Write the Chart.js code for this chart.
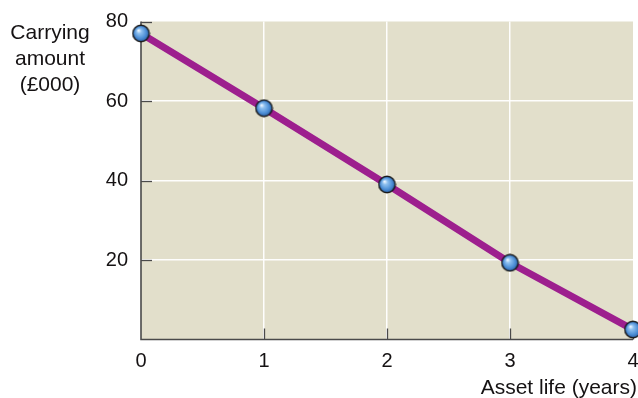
<!DOCTYPE html>
<html>
<head>
<meta charset="utf-8">
<script src="https://cdn.jsdelivr.net/npm/chart.js@4.4.1/dist/chart.umd.min.js"></script>
<style>
html,body{margin:0;padding:0;background:#fff;}
#wrap{width:638px;height:398px;position:relative;}
</style>
</head>
<body>
<div id="wrap"><canvas id="c" width="638" height="398"></canvas></div>
<script>
const years = [0, 1, 2, 3, 4];
const carryingAmount = [77, 58.2, 39, 19.3, 2.5];
const yTicks = [20, 40, 60, 80];
const xTitle = 'Asset life (years)';
const yTitleLines = ['Carrying', 'amount', '(£000)'];

const FONT = '"Liberation Sans", Arial, Helvetica, sans-serif';
const TEXT = '#151213';
const AXIS = '#4a4a4a';
const BG = '#e2dfcb';

// sphere marker
function makeSphere() {
  const s = 19, c = document.createElement('canvas');
  c.width = s; c.height = s;
  const g = c.getContext('2d');
  const r = 8.2, cx = s/2, cy = s/2;
  const grad = g.createRadialGradient(cx-2.5, cy-3, 0.5, cx, cy, r);
  grad.addColorStop(0, '#e8f3ff');
  grad.addColorStop(0.25, '#8ec0ef');
  grad.addColorStop(0.7, '#4d8fd6');
  grad.addColorStop(1, '#2c62a8');
  g.beginPath(); g.arc(cx, cy, r, 0, Math.PI*2);
  g.fillStyle = grad; g.fill();
  g.lineWidth = 1.4; g.strokeStyle = '#1a1a1a'; g.stroke();
  return c;
}
const sphere = makeSphere();

const decor = {
  id: 'decor',
  beforeDraw(chart) {
    const {ctx, chartArea: a} = chart;
    ctx.save();
    ctx.fillStyle = BG;
    ctx.fillRect(a.left, a.top, a.right - a.left, a.bottom - a.top);
    ctx.restore();
  },
  beforeDatasetsDraw(chart) {
    const {ctx, chartArea: a, scales} = chart;
    ctx.save();
    ctx.strokeStyle = AXIS; ctx.lineWidth = 1.3;
    // inward tick marks
    yTicks.forEach(v => {
      const y = Math.round(scales.y.getPixelForValue(v)) + 0.5;
      ctx.beginPath(); ctx.moveTo(a.left, y); ctx.lineTo(a.left + 11, y); ctx.stroke();
    });
    years.slice(1).forEach(v => {
      const x = Math.round(scales.x.getPixelForValue(v)) + 0.5;
      ctx.beginPath(); ctx.moveTo(x, a.bottom); ctx.lineTo(x, a.bottom - 11); ctx.stroke();
    });
    // axis lines
    ctx.lineWidth = 1.6;
    ctx.beginPath();
    ctx.moveTo(a.left, a.top); ctx.lineTo(a.left, a.bottom); ctx.lineTo(a.right, a.bottom);
    ctx.stroke();
    ctx.restore();
  },
  afterDraw(chart) {
    const {ctx} = chart;
    ctx.save();
    ctx.fillStyle = TEXT;
    ctx.font = '21px ' + FONT;
    ctx.textAlign = 'center'; ctx.textBaseline = 'alphabetic';
    yTitleLines.forEach((t, i) => ctx.fillText(t, 50, 39 + i * 26));
    ctx.textAlign = 'right';
    ctx.fillText(xTitle, 637, 394);
    ctx.restore();
  }
};

new Chart(document.getElementById('c'), {
  type: 'line',
  data: {
    labels: years,
    datasets: [{
      data: carryingAmount,
      borderColor: '#9d1f8e',
      borderWidth: 7,
      pointStyle: sphere,
      pointRadius: 9,
      pointHoverRadius: 9,
      clip: false,
      tension: 0
    }]
  },
  options: {
    responsive: false,
    animation: false,
    devicePixelRatio: 1,
    layout: { autoPadding: false, padding: { top: 21.5, right: 5, left: 0, bottom: 0 } },
    plugins: { legend: { display: false }, tooltip: { enabled: false } },
    scales: {
      x: {
        type: 'linear', min: 0, max: 4,
        afterFit(s) { s.height = 58.5; s.paddingLeft = 0; s.paddingRight = 0; },
        border: { display: false },
        grid: {
          drawTicks: false,
          color: ctx => (ctx.tick && (ctx.tick.value === 0 || ctx.tick.value === 4)) ? 'rgba(0,0,0,0)' : 'rgba(255,255,255,0.95)',
          lineWidth: 1.5
        },
        ticks: {
          stepSize: 1, padding: 10,
          color: TEXT, font: { size: 20, family: FONT }
        }
      },
      y: {
        min: 0, max: 80,
        afterFit(s) { s.width = 141; s.paddingTop = 0; s.paddingBottom = 0; },
        afterBuildTicks(s) { s.ticks = [0].concat(yTicks).map(v => ({ value: v })); },
        border: { display: false },
        grid: {
          drawTicks: false,
          color: ctx => (ctx.tick && (ctx.tick.value === 0 || ctx.tick.value === 80)) ? 'rgba(0,0,0,0)' : 'rgba(255,255,255,0.95)',
          lineWidth: 1.5
        },
        ticks: {
          padding: 13,
          color: TEXT, font: { size: 20, family: FONT },
          callback: v => (v === 0 ? '' : v)
        }
      }
    }
  },
  plugins: [decor]
});
</script>
</body>
</html>
